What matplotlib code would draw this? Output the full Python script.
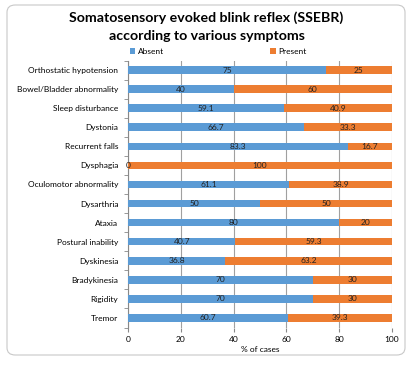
import matplotlib
matplotlib.use("Agg")
import matplotlib.pyplot as plt
from matplotlib.patches import FancyBboxPatch
import numpy as np

plt.rcParams['font.family'] = ['Lato', 'DejaVu Sans']

categories = ["Orthostatic hypotension", "Bowel/Bladder abnormality", "Sleep disturbance",
              "Dystonia", "Recurrent falls", "Dysphagia", "Oculomotor abnormality",
              "Dysarthria", "Ataxia", "Postural inability", "Dyskinesia",
              "Bradykinesia", "Rigidity", "Tremor"]
absent = [75, 40, 59.1, 66.7, 83.3, 0, 61.1, 50, 80, 40.7, 36.8, 70, 70, 60.7]
present = [25, 60, 40.9, 33.3, 16.7, 100, 38.9, 50, 20, 59.3, 63.2, 30, 30, 39.3]
xticks = [0, 20, 40, 60, 80, 100]

blue = "#5b9bd5"
orange = "#ed7d31"
W, H = 413, 367
fig = plt.figure(figsize=(W/100, H/100), dpi=100)
fig.patch.set_facecolor("white")

# rounded frame
frame = FancyBboxPatch((7/W, 12/H), 398/W, 350/H, boxstyle="round,pad=0,rounding_size=0.02",
                       transform=fig.transFigure, fill=False, edgecolor="#c8c8c8", linewidth=0.8)
fig.add_artist(frame)

ax = fig.add_axes([128/W, 1 - 327.5/H, 264/W, 267/H])
y = np.arange(len(categories))
ax.barh(y, absent, height=0.4, color=blue, label="Absent", zorder=3)
ax.barh(y, present, left=absent, height=0.4, color=orange, label="Present", zorder=3)

for i in range(len(categories)):
    a, p = absent[i], present[i]
    ax.text(a/2, y[i], f"{a:g}", ha="center", va="center", fontsize=6, color="#222222", zorder=4)
    ax.text(a + p/2, y[i], f"{p:g}", ha="center", va="center", fontsize=6, color="#222222", zorder=4)

ax.set_ylim(len(categories) - 0.5, -0.5)
ax.set_xlim(0, 100)
ax.set_xticks(xticks)
ax.set_yticks(y)
ax.set_yticklabels(categories, fontsize=6)
ax.tick_params(axis="x", labelsize=6, length=3, color="#888888", pad=3)
ax.tick_params(axis="y", length=0, pad=7)
ax.set_yticks(np.arange(len(categories) + 1) - 0.5, minor=True)
ax.tick_params(axis="y", which="minor", length=3, color="#888888")
ax.grid(axis="x", color="#a0a0a0", linewidth=0.8, zorder=0)
for s in ["top", "right", "bottom"]:
    ax.spines[s].set_visible(False)
ax.spines["left"].set_color("#888888")
ax.set_xlabel("% of cases", fontsize=6, labelpad=2)

fig.text(0.5, 1 - 18/H, "Somatosensory evoked blink reflex (SSEBR)", ha="center", va="center",
         fontsize=10.2, fontweight="bold")
fig.text(0.5, 1 - 36/H, "according to various symptoms", ha="center", va="center",
         fontsize=10.2, fontweight="bold")

handles, labels = ax.get_legend_handles_labels()
fig.legend(handles, labels, loc="center", bbox_to_anchor=(0.528, 1 - 51/H), ncol=2,
           fontsize=6, frameon=False, handlelength=0.7, handleheight=0.7,
           columnspacing=12.7, handletextpad=0.3)

fig.savefig("out.png", dpi=100)
